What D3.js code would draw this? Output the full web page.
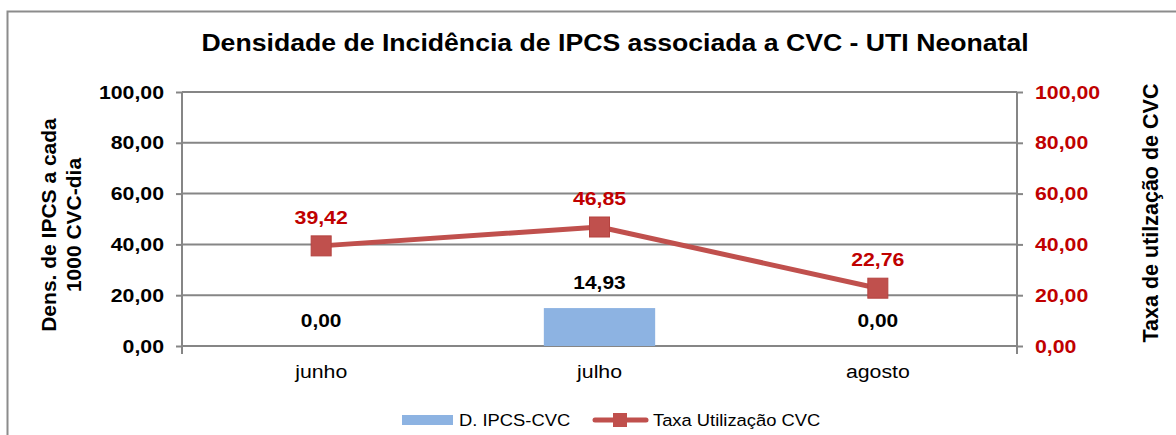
<!DOCTYPE html>
<html><head><meta charset="utf-8">
<script src="https://cdn.jsdelivr.net/npm/d3@7"></script>
<style>
body{margin:0;background:#fff}
svg{display:block;font-family:"Liberation Sans",Arial,sans-serif}
.sx{transform-box:fill-box}
</style>
</head><body>
<svg id="c" width="1176" height="435"></svg>
<script>
const categories = ["junho", "julho", "agosto"];
const densValues = [0.00, 14.93, 0.00];
const taxaValues = [39.42, 46.85, 22.76];
const tickValues = [0, 20, 40, 60, 80, 100];
const title = "Densidade de Incidência de IPCS associada a CVC - UTI Neonatal";
const leftTitle = ["Dens. de IPCS a cada", "1000 CVC-dia"];
const rightTitle = "Taxa de utilzação de CVC";
const seriesNames = ["D. IPCS-CVC", "Taxa Utilização CVC"];

const fmt = v => v.toFixed(2).replace(".", ",");
const svg = d3.select("#c");
const m = {l:182, r:1017, t:92, b:346};
const x = d3.scaleBand().domain(categories).range([m.l, m.r]).paddingInner(0).paddingOuter(0);
const yL = d3.scaleLinear().domain([0,100]).range([m.b, m.t]);
const yR = d3.scaleLinear().domain([0,100]).range([m.b, m.t]);
const grid = "#868686", red = "#c0504d", dred = "#c00000";

function stretch(sel, k, origin){
  sel.classed("sx", true).style("transform-origin", origin).style("transform", `scaleX(${k})`);
}

// outer border
svg.append("path").attr("d","M7.5,440 V11.5 H1180").attr("fill","none").attr("stroke","#8c8c8c").attr("stroke-width",2);

// gridlines
svg.append("g").selectAll("line").data(tickValues).join("line")
  .attr("x1", m.l).attr("x2", m.r).attr("y1", d=>yL(d)).attr("y2", d=>yL(d))
  .attr("stroke", grid).attr("stroke-width", 2);

// left axis
const gl = svg.append("g").attr("transform",`translate(${m.l},0)`)
  .call(d3.axisLeft(yL).tickValues(tickValues).tickFormat(fmt).tickSize(6).tickPadding(12));
gl.select(".domain").attr("stroke",grid).attr("stroke-width",2).attr("d",`M0,${m.t}V${m.b+8}`);
gl.selectAll(".tick line").attr("stroke",grid).attr("stroke-width",2);
gl.selectAll(".tick text").attr("font-size",19).attr("font-weight","bold").attr("fill","#000").attr("font-family","Liberation Sans, Arial")
  .call(stretch, 1.12, "right center");

// right axis
const gr = svg.append("g").attr("transform",`translate(${m.r},0)`)
  .call(d3.axisRight(yR).tickValues(tickValues).tickFormat(fmt).tickSize(6).tickPadding(12));
gr.select(".domain").attr("stroke",grid).attr("stroke-width",2).attr("d",`M0,${m.t}V${m.b+8}`);
gr.selectAll(".tick line").attr("stroke",grid).attr("stroke-width",2);
gr.selectAll(".tick text").attr("font-size",19).attr("font-weight","bold").attr("fill",dred).attr("font-family","Liberation Sans, Arial")
  .call(stretch, 1.12, "left center");

// x axis labels
const gx = svg.append("g").attr("transform",`translate(0,${m.b})`)
  .call(d3.axisBottom(x).tickSize(0).tickPadding(19));
gx.select(".domain").remove();
gx.selectAll(".tick text").attr("font-size",19).attr("fill","#000").attr("font-family","Liberation Sans, Arial")
  .call(stretch, 1.12, "center");

// bars
const bw = x.bandwidth()*0.4;
svg.append("g").selectAll("rect").data(densValues).join("rect")
  .attr("x",(d,i)=>x(categories[i])+x.bandwidth()/2-bw/2).attr("width",bw)
  .attr("y",d=>yL(d)).attr("height",d=>m.b-yL(d)).attr("fill","#8db3e2");
svg.append("g").selectAll("text").data(densValues).join("text")
  .attr("x",(d,i)=>x(categories[i])+x.bandwidth()/2).attr("y",d=>yL(d)-19)
  .attr("text-anchor","middle").attr("font-size",19).attr("font-weight","bold").attr("fill","#000")
  .text(fmt).call(stretch, 1.1, "center");

// line
const cx = i => x(categories[i])+x.bandwidth()/2;
svg.append("path").datum(taxaValues)
  .attr("d", d3.line().x((d,i)=>cx(i)).y(d=>yR(d)))
  .attr("fill","none").attr("stroke",red).attr("stroke-width",5).attr("stroke-linejoin","round").attr("stroke-linecap","round");
svg.append("g").selectAll("rect").data(taxaValues).join("rect")
  .attr("x",(d,i)=>cx(i)-10).attr("y",d=>yR(d)-10).attr("width",20).attr("height",20)
  .attr("fill",red).attr("stroke","#b5423f").attr("stroke-width",1);
svg.append("g").selectAll("text").data(taxaValues).join("text")
  .attr("x",(d,i)=>cx(i)).attr("y",d=>yR(d)-22)
  .attr("text-anchor","middle").attr("font-size",19).attr("font-weight","bold").attr("fill",dred)
  .text(fmt).call(stretch, 1.12, "center");

// title
svg.append("text").attr("x",615).attr("y",51).attr("text-anchor","middle")
  .attr("font-size",24).attr("font-weight","bold").attr("fill","#000").text(title)
  .call(stretch, 1.11, "center");

// left axis title
const lt = svg.append("text").attr("transform","translate(61,225) rotate(-90)")
  .attr("text-anchor","middle").attr("font-size",21).attr("font-weight","bold").attr("fill","#000");
leftTitle.forEach((t,i)=>lt.append("tspan").attr("x",0).attr("dy", i===0? -5 : 25).text(t));

// right axis title
svg.append("text").attr("transform","translate(1158,213) rotate(-90)")
  .attr("text-anchor","middle").attr("font-size",21.5).attr("font-weight","bold").attr("fill","#000").text(rightTitle);

// legend
const lg = svg.append("g");
lg.append("rect").attr("x",402).attr("y",415).attr("width",51).attr("height",10).attr("fill","#8db3e2");
lg.append("text").attr("x",459).attr("y",426).attr("font-size",17).attr("fill","#000").text(seriesNames[0])
  .call(stretch, 1.08, "left center");
lg.append("line").attr("x1",595).attr("x2",646).attr("y1",420).attr("y2",420).attr("stroke",red).attr("stroke-width",5).attr("stroke-linecap","round");
lg.append("rect").attr("x",613).attr("y",413).attr("width",14).attr("height",14).attr("fill",red);
lg.append("text").attr("x",653).attr("y",426).attr("font-size",17).attr("fill","#000").text(seriesNames[1])
  .call(stretch, 1.08, "left center");
</script>
</body></html>
